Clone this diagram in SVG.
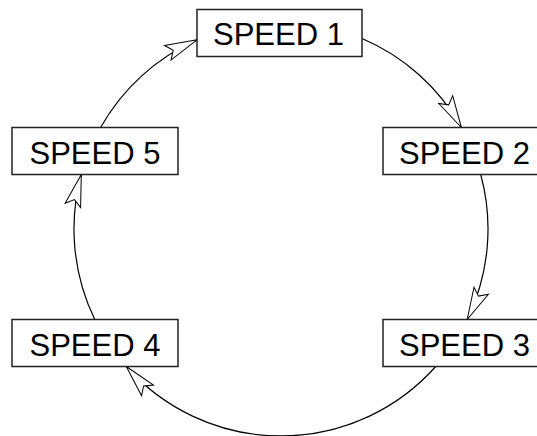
<svg xmlns="http://www.w3.org/2000/svg" width="537" height="436" viewBox="0 0 537 436">
<style>
.box{fill:#fff;stroke:#222;stroke-width:1.5}
.lbl{font-family:"Liberation Sans",Arial,sans-serif;font-size:31px;fill:#000;text-anchor:middle}
.arc{fill:none;stroke:#000;stroke-width:1.2;marker-end:url(#ah)}
</style>
<defs>
<marker id="ah" markerUnits="userSpaceOnUse" markerWidth="40" markerHeight="24" viewBox="-34 -12 36 24" refX="0" refY="0" orient="auto" overflow="visible">
<path d="M0,0 L-32,8 L-26,0 L-32,-8 Z" fill="#fff" stroke="#000" stroke-width="1"/>
</marker>
</defs>
<rect width="537" height="436" fill="#fff"/>
<g id="connectors">
<path class="arc" d="M362,38.5 A207,207 0 0 1 461.4,127.5"/>
<path class="arc" d="M480.7,174.5 A207,207 0 0 1 467.2,319.5"/>
<path class="arc" d="M435.7,366.5 A207,207 0 0 1 126.3,366.5"/>
<path class="arc" d="M94.8,319.5 A207,207 0 0 1 81.3,174.5"/>
<path class="arc" d="M100.6,127.5 A207,207 0 0 1 197,39.8"/>
</g>
<g id="speed1"><rect class="box" x="197" y="9.5" width="165" height="47"/><text class="lbl" x="278.5" y="45">SPEED 1</text></g>
<g id="speed2"><rect class="box" x="383" y="127.5" width="166" height="47"/><text class="lbl" x="464.5" y="164">SPEED 2</text></g>
<g id="speed3"><rect class="box" x="383" y="319.5" width="166" height="47"/><text class="lbl" x="464.5" y="356">SPEED 3</text></g>
<g id="speed4"><rect class="box" x="12" y="319.5" width="166" height="47"/><text class="lbl" x="95" y="355.5">SPEED 4</text></g>
<g id="speed5"><rect class="box" x="12" y="127.5" width="166" height="47"/><text class="lbl" x="95" y="163.5">SPEED 5</text></g>
</svg>
